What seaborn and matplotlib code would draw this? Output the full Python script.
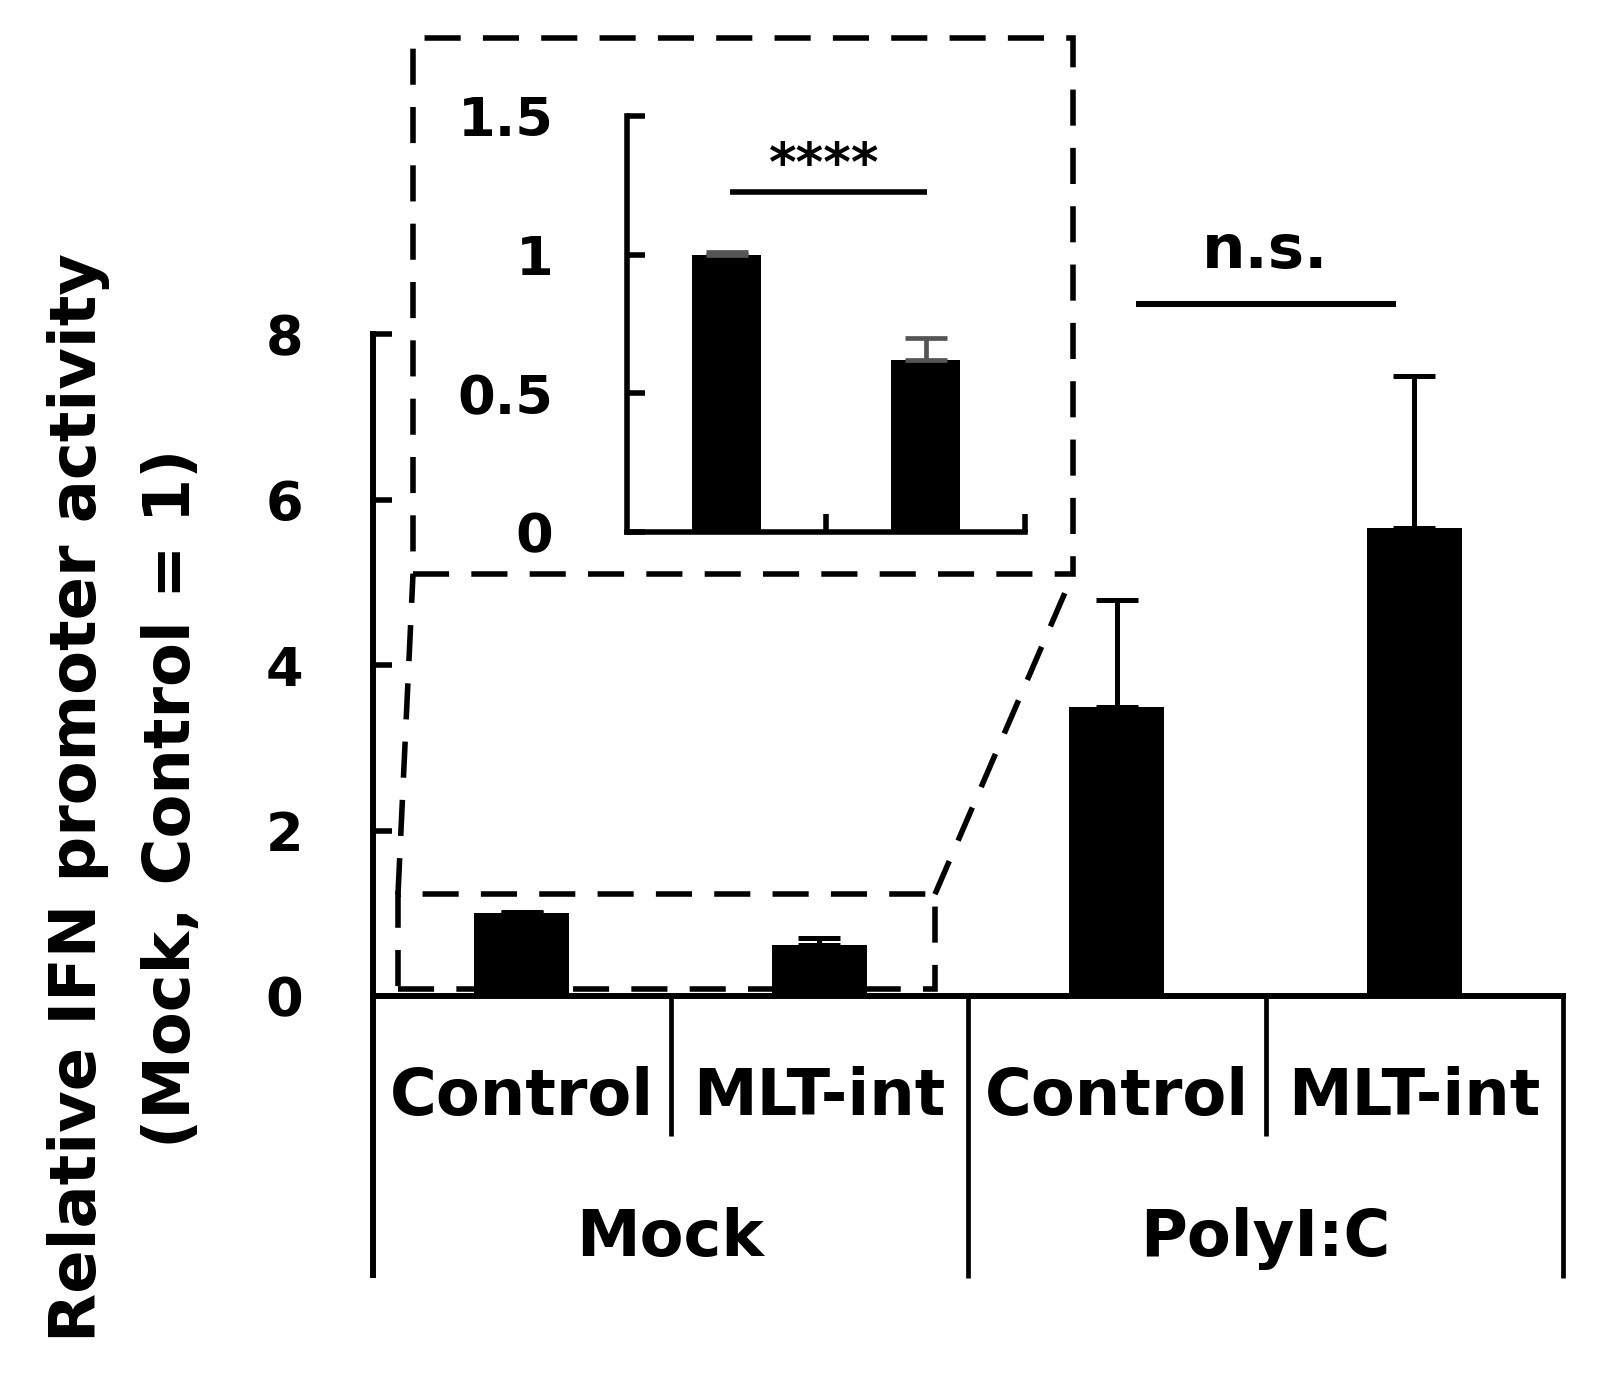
import numpy as np
import pandas as pd
import matplotlib
matplotlib.use('Agg')
import matplotlib.pyplot as plt
import seaborn as sns
from matplotlib.patches import Rectangle
from matplotlib.lines import Line2D

# values (mean, upper error)
treatments = ['Mock', 'Mock', 'PolyI:C', 'PolyI:C']
constructs = ['Control', 'MLT-int', 'Control', 'MLT-int']
activity = [1.0, 0.62, 3.49, 5.66]
sem = [0.01, 0.08, 1.29, 1.83]
group_names = ['Mock', 'PolyI:C']
main_ticks = [0, 2, 4, 6, 8]
inset_ticks = [0, 0.5, 1, 1.5]
inset_ticklabels = ['0', '0.5', '1', '1.5']
ylabel = 'Relative IFN promoter activity\n(Mock, Control = 1)'

df = pd.DataFrame({'treatment': treatments, 'construct': constructs,
                   'activity': activity, 'sem': sem})
df['bar'] = df['treatment'] + ' ' + df['construct']
mock = df[df.treatment == 'Mock'].reset_index(drop=True)

sns.set_style('ticks')
plt.rcParams['font.family'] = ['DejaVu Sans']
plt.rcParams['font.weight'] = 'bold'
for k in ['text.color', 'axes.labelcolor', 'xtick.color', 'ytick.color', 'axes.edgecolor']:
    plt.rcParams[k] = 'black'

W, H = 1607, 1377
fig = plt.figure(figsize=(W / 100, H / 100), dpi=100)

# main axes
ax = fig.add_axes([373 / W, 1 - 996 / H, (1563 - 373) / W, (996 - 334) / H])
sns.barplot(data=df, x='bar', y='activity', color='black', width=0.32,
            saturation=1, errorbar=None, linewidth=0, ax=ax)
ax.errorbar(np.arange(len(df)), df['activity'], yerr=[np.zeros(len(df)), df['sem']],
            fmt='none', ecolor='black', elinewidth=3.6, capsize=15, capthick=3.6,
            clip_on=False)
ax.set_xlim(-0.5, 3.5)
ax.set_ylim(0, 8)
ax.set_yticks(main_ticks)
ax.set_yticklabels([str(t) for t in main_ticks])
ax.set_xlabel('')
ax.set_ylabel('')
ax.tick_params(axis='y', direction='in', length=14, width=4, pad=50, labelsize=39)
ax.tick_params(axis='x', length=0, labelbottom=False)
sns.despine(ax=ax)
for s in ['left', 'bottom']:
    ax.spines[s].set_linewidth(4.3)

# table-like category axis below the bars
xt = ax.get_xaxis_transform()
for xb, depth, lw in zip([-0.5, 0.5, 1.5, 2.5, 3.5],
                         [-0.426, -0.2115, -0.426, -0.2115, -0.426],
                         [4.3, 3.4, 3.4, 3.4, 3.4]):
    ax.plot([xb, xb], [0, depth], transform=xt, clip_on=False, color='black',
            lw=lw, solid_capstyle='butt')
for i, c in enumerate(constructs):
    ax.text(i, -0.1526, c, transform=xt, ha='center', va='center', fontsize=46)
for i, g in enumerate(group_names):
    ax.text(2 * i + 0.5, -0.3656, g, transform=xt, ha='center', va='center', fontsize=46)

# n.s. bracket
ax.plot([2.065, 2.939], [8.36, 8.36], color='black', lw=4.3, clip_on=False,
        solid_capstyle='butt')
ax.text(2.5, 8.8, 'n.s.', ha='center', va='baseline', fontsize=44)

fig.text(125 / W, 1 - 798 / H, ylabel, rotation=90, ha='center', va='center',
         fontsize=46, linespacing=1.62)

# inset axes (zoom on the Mock bars)
ax_in = fig.add_axes([627 / W, 1 - 532 / H, 398 / W, 416 / H])
sns.barplot(data=mock, x='construct', y='activity', color='black', width=0.35,
            saturation=1, errorbar=None, linewidth=0, ax=ax_in)
ax_in.errorbar(np.arange(len(mock)), mock['activity'],
               yerr=[np.zeros(len(mock)), mock['sem']], fmt='none',
               ecolor='#555555', elinewidth=3.4, capsize=15, capthick=3.4)
ax_in.set_xlim(-0.5, 1.5)
ax_in.set_ylim(0, 1.5)
ax_in.set_yticks(inset_ticks)
ax_in.set_yticklabels(inset_ticklabels)
ax_in.set_xticks([0.5, 1.5])
ax_in.set_xticklabels(['', ''])
ax_in.set_xlabel('')
ax_in.set_ylabel('')
ax_in.tick_params(axis='y', direction='in', length=13, width=4, pad=53, labelsize=39)
ax_in.tick_params(axis='x', direction='in', length=13, width=4)
sns.despine(ax=ax_in)
for s in ['left', 'bottom']:
    ax_in.spines[s].set_linewidth(4)
ax_in.plot([0.02, 1.01], [1.226, 1.226], color='black', lw=4, clip_on=False,
           solid_capstyle='butt')
ax_in.text(0.49, 1.265, '****', ha='center', va='baseline', fontsize=38)

# dashed zoom boxes and connectors
dash = (0, (6.5, 4.0))
small = Rectangle((-0.416, 0.085), 1.805, 1.145, transform=ax.transData,
                  fill=False, lw=4, ls=dash, edgecolor='black', clip_on=False)
ax.add_patch(small)
big_l, big_r, big_t, big_b = 413 / W, 1073 / W, 1 - 38 / H, 1 - 574 / H
fig.patches.append(Rectangle((big_l, big_b), big_r - big_l, big_t - big_b,
                             transform=fig.transFigure, fill=False, lw=4,
                             ls=dash, edgecolor='black'))
to_fig = ax.transData + fig.transFigure.inverted()
p_left = to_fig.transform((-0.416, 1.23))
p_right = to_fig.transform((1.389, 1.23))
for p, q in [(p_left, (big_l, big_b)), (p_right, (big_r, big_b))]:
    fig.lines.append(Line2D([p[0], q[0]], [p[1], q[1]], transform=fig.transFigure,
                            color='black', lw=4, ls=dash))

fig.savefig('out.png', dpi=100, facecolor='white')
